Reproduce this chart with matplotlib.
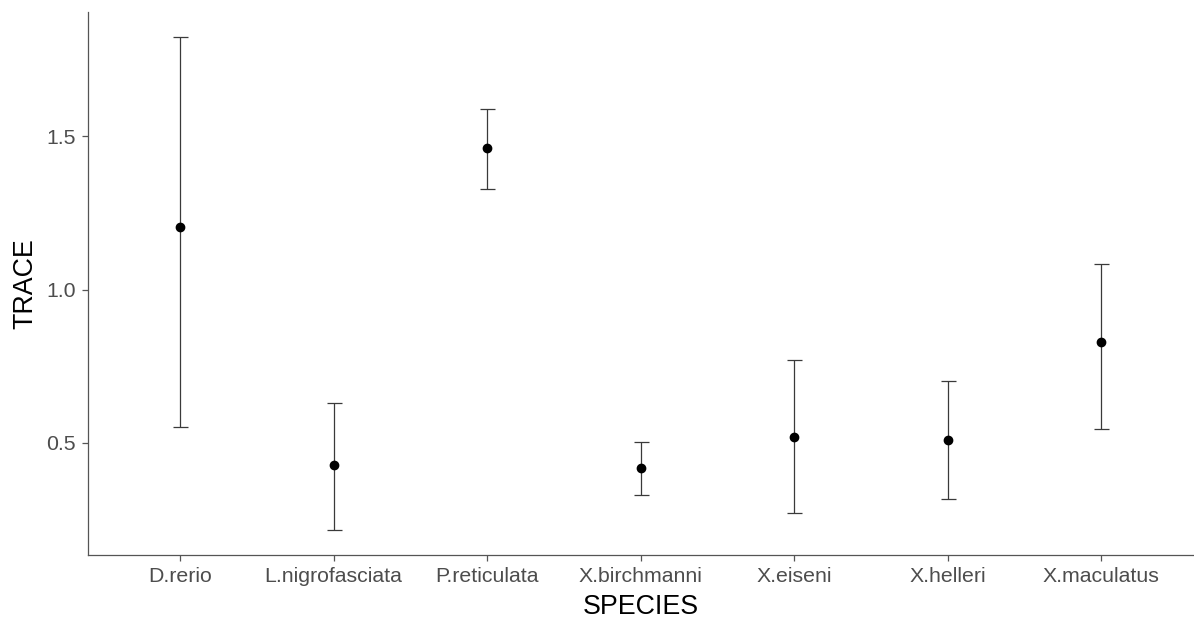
import matplotlib
matplotlib.use("Agg")
import matplotlib.pyplot as plt
import numpy as np

species = ["D.rerio", "L.nigrofasciata", "P.reticulata", "X.birchmanni",
           "X.eiseni", "X.helleri", "X.maculatus"]
trace_mean = [1.205, 0.428, 1.461, 0.418, 0.519, 0.510, 0.830]
trace_lower = [0.551, 0.215, 1.329, 0.331, 0.271, 0.317, 0.546]
trace_upper = [1.825, 0.630, 1.588, 0.502, 0.770, 0.702, 1.082]

plt.rcParams["font.family"] = ["Liberation Sans", "DejaVu Sans"]

fig = plt.figure(figsize=(11.94, 6.28), dpi=100)
ax = fig.add_axes([0.0737, 0.1162, 0.9258, 0.8647])

x = np.arange(len(species))
mean = np.array(trace_mean)
lo = mean - np.array(trace_lower)
hi = np.array(trace_upper) - mean

ax.errorbar(x, mean, yerr=[lo, hi], fmt="none", ecolor="#3a3a3a",
            elinewidth=0.9, capsize=5.4, capthick=0.9)
ax.plot(x, mean, "o", color="black", markersize=6.0, zorder=3)

# discrete-axis padding and 5% continuous expansion
ax.set_xlim(-0.6, len(species) - 0.4)
span = max(trace_upper) - min(trace_lower)
ax.set_ylim(min(trace_lower) - 0.05 * span, max(trace_upper) + 0.05 * span)

ax.set_xticks(x)
ax.set_xticklabels(species)
ax.set_yticks([0.5, 1.0, 1.5])
ax.set_yticklabels(["0.5", "1.0", "1.5"])
ax.tick_params(axis="both", colors="#555555", labelcolor="#4d4d4d",
               labelsize=15.3, length=4.5, width=0.9, pad=4)

for side in ("top", "right"):
    ax.spines[side].set_visible(False)
for side in ("left", "bottom"):
    ax.spines[side].set_color("#555555")
    ax.spines[side].set_linewidth(0.9)

ax.set_xlabel("SPECIES", fontsize=19.3, color="black", labelpad=6)
ax.set_ylabel("TRACE", fontsize=19.3, color="black", labelpad=6)

fig.savefig("out.png", dpi=100)
